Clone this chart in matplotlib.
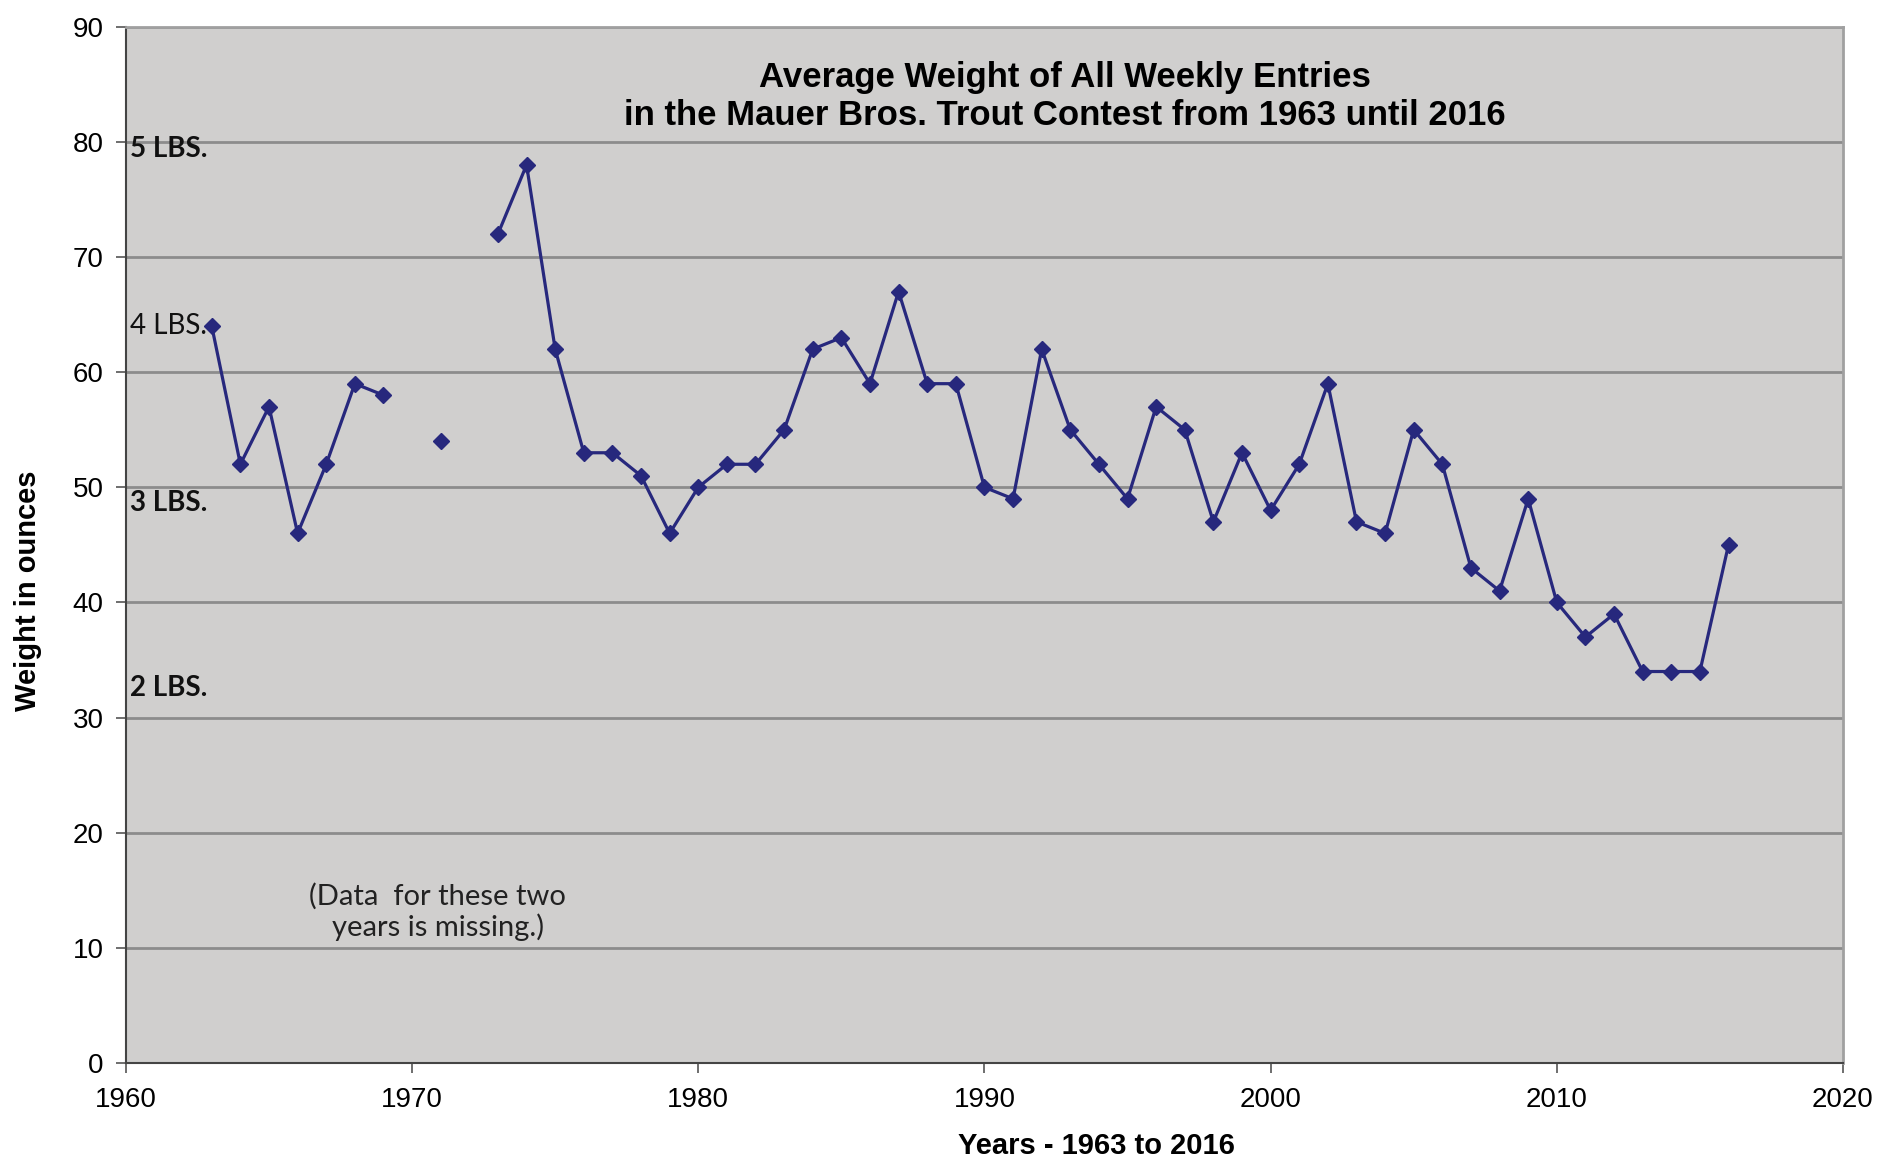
import numpy as np
import matplotlib.pyplot as plt

# Average weight (ounces) per contest year; 1970 and 1972 missing
years = list(range(1963, 2017))
weights = [64, 52, 57, 46, 52, 59, 58, np.nan, 54, np.nan,
           72, 78, 62, 53, 53, 51, 46, 50, 52, 52,
           55, 62, 63, 59, 67, 59, 59, 50, 49, 62,
           55, 52, 49, 57, 55, 47, 53, 48, 52, 59,
           47, 46, 55, 52, 43, 41, 49, 40, 37, 39,
           34, 34, 34, 45]

lbs_labels = ["5 LBS.", "4 LBS.", "3 LBS.", "2 LBS."]
lbs_y = [79.4, 64, 48.6, 32.6]
lbs_bold = [True, False, True, True]

x_ticks = list(range(1960, 2021, 10))
y_ticks = list(range(0, 91, 10))

plt.rcParams['font.family'] = ['Liberation Sans', 'DejaVu Sans']

fig = plt.figure(figsize=(18.99, 11.63), dpi=100)
ax = fig.add_axes([0.0663, 0.086, 0.9042, 0.891])
ax.set_facecolor('#d0cfce')

ax.plot(years, weights, color='#27287d', lw=2.3, marker='D', ms=8.5, zorder=3)

ax.set_xlim(1960, 2020)
ax.set_ylim(0, 90)
ax.set_xticks(x_ticks)
ax.set_yticks(y_ticks)
ax.yaxis.grid(True, color='#8c8c8c', lw=2)
ax.set_axisbelow(True)
ax.tick_params(axis='both', labelsize=20, length=7, width=1.2, color='#555555')
ax.tick_params(axis='x', pad=10)
ax.tick_params(axis='y', pad=9)

for side in ['left', 'bottom']:
    ax.spines[side].set_color('#444444')
    ax.spines[side].set_linewidth(1.5)
for side in ['top', 'right']:
    ax.spines[side].set_color('#a0a0a0')
    ax.spines[side].set_linewidth(2)

ax.set_xlabel("Years - 1963 to 2016", fontsize=21, fontweight='bold', labelpad=14, x=0.565)
ax.set_ylabel("Weight in ounces", fontsize=21, fontweight='bold', labelpad=22, y=0.456)

ax.text(0.547, 0.933, "Average Weight of All Weekly Entries\nin the Mauer Bros. Trout Contest from 1963 until 2016",
        transform=ax.transAxes, ha='center', va='center', fontsize=25, fontweight='bold',
        linespacing=1.2)

for lab, yv, b in zip(lbs_labels, lbs_y, lbs_bold):
    ax.text(1960.15, yv, lab, fontsize=20, fontweight='bold' if b else 'normal',
            family=['Lato', 'DejaVu Sans'], ha='left', va='center', color='#111111')

ax.text(1970.9, 13.1, "(Data  for these two\nyears is missing.)", fontsize=21,
        family=['Lato', 'DejaVu Sans'], ha='center', va='center', color='#222222',
        linespacing=1.15)

fig.savefig('out.png', dpi=100)
